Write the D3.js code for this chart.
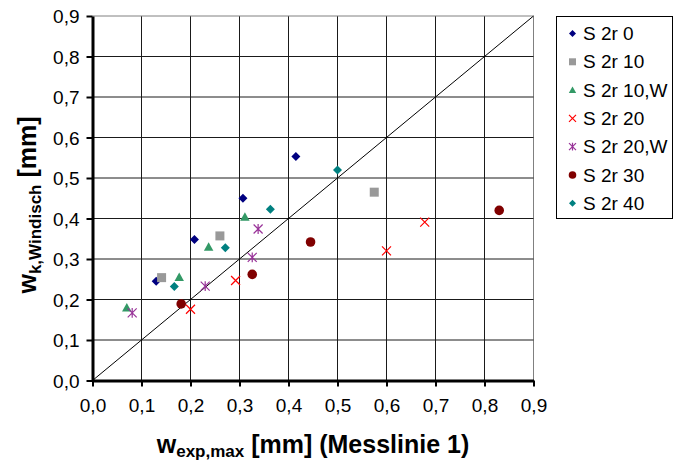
<!DOCTYPE html>
<html>
<head>
<meta charset="utf-8">
<script src="https://cdn.jsdelivr.net/npm/d3@7"></script>
<style>
  html, body { margin: 0; padding: 0; background: #fff; }
  svg { display: block; font-family: "Liberation Sans", Arial, sans-serif; }
</style>
</head>
<body>
<svg id="chart" width="673" height="464"></svg>
<script>
// ---- data ----
const seriesNames = ["S 2r 0", "S 2r 10", "S 2r 10,W", "S 2r 20", "S 2r 20,W", "S 2r 30", "S 2r 40"];
const s2r0   = [[0.130, 0.245], [0.208, 0.348], [0.307, 0.450], [0.415, 0.553]];
const s2r10  = [[0.141, 0.254], [0.260, 0.357], [0.575, 0.465]];
const s2r10W = [[0.070, 0.180], [0.177, 0.255], [0.237, 0.330], [0.311, 0.404]];
const s2r20  = [[0.200, 0.176], [0.292, 0.247], [0.600, 0.320], [0.678, 0.391]];
const s2r20W = [[0.081, 0.167], [0.230, 0.233], [0.326, 0.304], [0.338, 0.374]];
const s2r30  = [[0.181, 0.189], [0.326, 0.262], [0.445, 0.342], [0.830, 0.420]];
const s2r40  = [[0.167, 0.232], [0.271, 0.328], [0.363, 0.423], [0.500, 0.520]];
const seriesValues = [s2r0, s2r10, s2r10W, s2r20, s2r20W, s2r30, s2r40];
const tickValues = [0, 0.1, 0.2, 0.3, 0.4, 0.5, 0.6, 0.7, 0.8, 0.9];
const tickLabels = ["0,0", "0,1", "0,2", "0,3", "0,4", "0,5", "0,6", "0,7", "0,8", "0,9"];
const diagonal = [[0, 0], [0.9, 0.9]];

// ---- styles ----
const colors  = ["#000080", "#999999", "#339966", "#ff0000", "#993399", "#800000", "#008080"];
const shapes  = ["diamond", "square", "triangle", "x", "asterisk", "circle", "diamond"];

const svg = d3.select("#chart");
const x = d3.scaleLinear().domain([0, 0.9]).range([92.5, 533.5]);
const y = d3.scaleLinear().domain([0, 0.9]).range([380.5, 16]);

function markerPath(shape, r) {
  const p = d3.path();
  switch (shape) {
    case "diamond":
      p.moveTo(0, -r); p.lineTo(r, 0); p.lineTo(0, r); p.lineTo(-r, 0); p.closePath(); break;
    case "square":
      p.rect(-r, -r, 2 * r, 2 * r); break;
    case "triangle":
      p.moveTo(0, -r * 1.05); p.lineTo(r * 1.05, r * 0.85); p.lineTo(-r * 1.05, r * 0.85); p.closePath(); break;
    case "circle":
      p.arc(0, 0, r, 0, 2 * Math.PI); break;
    case "x":
      p.moveTo(-r, -r); p.lineTo(r, r); p.moveTo(r, -r); p.lineTo(-r, r); break;
    case "asterisk":
      p.moveTo(-r, -r); p.lineTo(r, r); p.moveTo(r, -r); p.lineTo(-r, r);
      p.moveTo(0, -r * 1.1); p.lineTo(0, r * 1.1); break;
  }
  return p.toString();
}
function styleMarker(sel, shape, color) {
  if (shape === "x" || shape === "asterisk") {
    sel.attr("fill", "none").attr("stroke", color).attr("stroke-width", 1.2);
  } else {
    sel.attr("fill", color).attr("stroke", "none");
  }
}

// ---- grid ----
const grid = svg.append("g");
grid.selectAll("line.v").data(tickValues.slice(1)).join("line")
  .attr("x1", d => x(d)).attr("x2", d => x(d))
  .attr("y1", y(0)).attr("y2", y(0.9))
  .attr("stroke", d => d === 0.9 ? "#808080" : "#1a1a1a").attr("stroke-width", 1);
grid.selectAll("line.h").data(tickValues.slice(1)).join("line")
  .attr("y1", d => y(d)).attr("y2", d => y(d))
  .attr("x1", x(0)).attr("x2", x(0.9))
  .attr("stroke", d => d === 0.9 ? "#808080" : "#1a1a1a").attr("stroke-width", 1);

// ---- diagonal ----
svg.append("path")
  .attr("d", d3.line().x(d => x(d[0])).y(d => y(d[1]))(diagonal))
  .attr("fill", "none").attr("stroke", "#000").attr("stroke-width", 1);

// ---- axes ----
const xAxis = d3.axisBottom(x).tickValues(tickValues).tickFormat((d, i) => tickLabels[i])
  .tickSizeInner(6).tickSizeOuter(0).tickPadding(8);
const yAxis = d3.axisLeft(y).tickValues(tickValues).tickFormat((d, i) => tickLabels[i])
  .tickSizeInner(6).tickSizeOuter(0).tickPadding(7);

const gx = svg.append("g").attr("transform", `translate(0,${y(0)})`).call(xAxis);
const gy = svg.append("g").attr("transform", `translate(${x(0)},0)`).call(yAxis);
[gx, gy].forEach(g => {
  g.select(".domain").attr("stroke", "#000").attr("stroke-width", 3);
  g.selectAll(".tick line").attr("stroke", "#000").attr("stroke-width", 2);
  g.selectAll(".tick text").attr("fill", "#000")
    .style("font-family", '"Liberation Sans", Arial, sans-serif').style("font-size", "19px");
});
gx.selectAll(".tick text").attr("dy", "0.9em");
gy.selectAll(".tick text").attr("dy", "0.35em");

// ---- data points ----
seriesValues.forEach((vals, i) => {
  const g = svg.append("g");
  g.selectAll("path").data(vals).join("path")
    .attr("transform", d => `translate(${x(d[0])},${y(d[1])})`)
    .attr("d", markerPath(shapes[i], shapes[i] === "circle" ? 4.8 : 4.5))
    .call(sel => styleMarker(sel, shapes[i], colors[i]));
});

// ---- axis titles ----
const xt = svg.append("text")
  .attr("x", 313).attr("y", 453).attr("text-anchor", "middle")
  .attr("font-weight", "bold").attr("font-size", "25px").attr("fill", "#000");
xt.append("tspan").text("w");
xt.append("tspan").attr("font-size", "17px").attr("dy", 4).text("exp,max");
xt.append("tspan").attr("dy", -4).text(" [mm] (Messlinie 1)");

const yt = svg.append("text")
  .attr("transform", "translate(36,205) rotate(-90)").attr("text-anchor", "middle")
  .attr("font-weight", "bold").attr("font-size", "25px").attr("fill", "#000");
yt.append("tspan").text("w");
yt.append("tspan").attr("font-size", "17px").attr("dy", 5).text("k,Windisch");
yt.append("tspan").attr("dy", -5).text(" [mm]");

// ---- legend ----
const lg = svg.append("g");
lg.append("rect").attr("x", 556.5).attr("y", 16.5).attr("width", 116).attr("height", 202)
  .attr("fill", "#fff").attr("stroke", "#000").attr("stroke-width", 1);
seriesNames.forEach((name, i) => {
  const cy = 33.5 + i * 28.3;
  lg.append("path").attr("transform", `translate(572.5,${cy})`)
    .attr("d", markerPath(shapes[i], shapes[i] === "circle" ? 3.8 : 3.5))
    .call(sel => styleMarker(sel, shapes[i], colors[i]));
  lg.append("text").attr("x", 583).attr("y", cy).attr("dy", "0.35em")
    .attr("font-size", "19px").attr("fill", "#000").text(name);
});
</script>
</body>
</html>
